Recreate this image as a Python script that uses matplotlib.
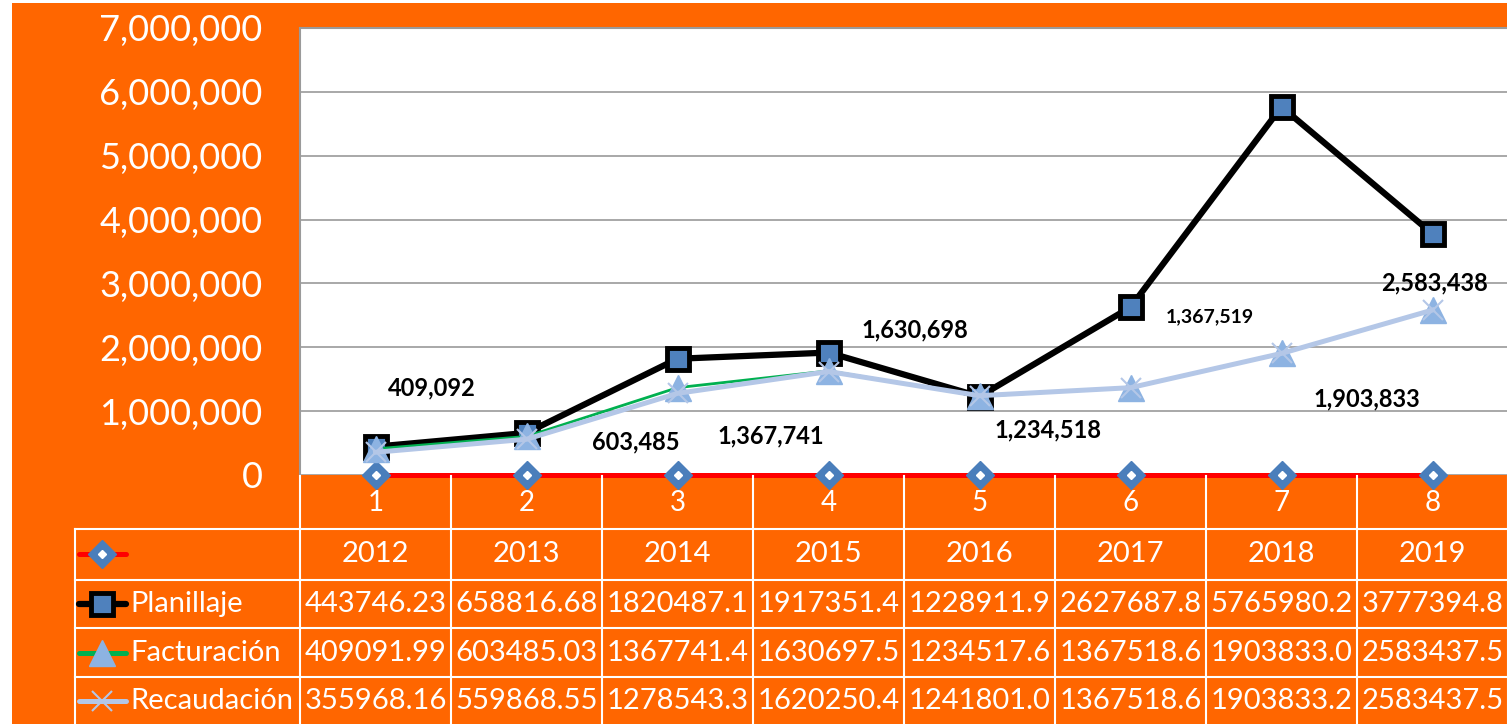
import matplotlib.pyplot as plt
from matplotlib.lines import Line2D

plt.rcParams['font.family'] = ['Lato', 'DejaVu Sans']

categorias = [1, 2, 3, 4, 5, 6, 7, 8]
anios = [2012, 2013, 2014, 2015, 2016, 2017, 2018, 2019]
planillaje = [443746.23, 658816.68, 1820487.1, 1917351.4, 1228911.9, 2627687.8, 5765980.2, 3777394.8]
facturacion = [409091.99, 603485.03, 1367741.4, 1630697.5, 1234517.6, 1367518.6, 1903833.0, 2583437.5]
recaudacion = [355968.16, 559868.55, 1278543.3, 1620250.4, 1241801.0, 1367518.6, 1903833.2, 2583437.5]
yticks = [0, 1000000, 2000000, 3000000, 4000000, 5000000, 6000000, 7000000]

# label offsets (pixels) for the Facturación data labels, as placed in the original
lbl_off = [(56, 61), (109, -5), (93, -48), (86, 41), (68, -34), (79, 71), (85, -45), (2, 27)]
lbl_size = [17, 17, 17, 17, 17, 14, 17, 17]

ORANGE = '#FF6600'
W, H = 1507, 724

fig = plt.figure(figsize=(W / 100, H / 100), dpi=100, facecolor='white')
# orange chart area (white strip on left / top like the screenshot)
fig.patches.append(plt.Rectangle((12 / W, 0), 1, 1 - 3 / H, transform=fig.transFigure,
                                 facecolor=ORANGE, edgecolor='none', zorder=-10))

ax_l, ax_r, ax_t, ax_b = 300, 1508, 28, 475
ax = fig.add_axes([ax_l / W, 1 - ax_b / H, (ax_r - ax_l) / W, (ax_b - ax_t) / H])
ax.set_facecolor('white')
ax.set_xlim(0.5, 8.5)
ax.set_ylim(0, 7000000)
ax.set_yticks(yticks)
ax.set_yticklabels([f'{v:,}' for v in yticks], color='white', fontsize=26)
ax.tick_params(axis='y', length=0, pad=27)
ax.set_xticks(categorias)
ax.set_xticklabels([str(c) for c in categorias], color='white', fontsize=20)
ax.tick_params(axis='x', length=0, pad=11)
ax.grid(axis='y', color='#9A9A9A', linewidth=1.2)
ax.set_axisbelow(True)
for s in ['right', 'bottom']:
    ax.spines[s].set_visible(False)
for s in ['left', 'top']:
    ax.spines[s].set_color('#9A9A9A')
    ax.spines[s].set_linewidth(1.5)

# series
ax.plot(categorias, anios, color='#FF0000', lw=3.6, marker='D', ms=14,
        mfc='#4A7EBB', mec='#4A7EBB', clip_on=False, zorder=3)
ax.plot(categorias, anios, ls='none', marker='D', ms=4.5, mfc='white', mec='white',
        clip_on=False, zorder=4)
ax.plot(categorias, planillaje, color='black', lw=4.5, marker='s', ms=16,
        mfc='#4F81BD', mec='black', mew=3.5, zorder=5)
ax.plot(categorias, facturacion, color='#00B050', lw=2.0, marker='^', ms=19,
        mfc='#8DB3E2', mec='#8DB3E2', zorder=6)
ax.plot(categorias, recaudacion, color='#B4C7E7', lw=3.6, marker='x', ms=15,
        mec='#B4C7E7', mew=1.5, zorder=7)

for x, v, off, fs in zip(categorias, facturacion, lbl_off, lbl_size):
    ax.annotate(f'{v:,.0f}', (x, v), xytext=off, textcoords='offset pixels',
                ha='center', va='center', fontsize=fs, fontweight='bold', color='black',
                zorder=10)

# data table below the axis
def fy(py):
    return 1 - py / H

def fx(px):
    return px / W

cell_w = (ax_r - ax_l) / len(categorias)
row_lines = [529, 580, 628, 677]
for y in row_lines:
    fig.add_artist(Line2D([fx(75), 1], [fy(y), fy(y)], color='white', lw=1.5))
for k in range(len(categorias) + 1):
    x = ax_l + k * cell_w
    fig.add_artist(Line2D([fx(x), fx(x)], [fy(476), 0], color='white', lw=1.5))
fig.add_artist(Line2D([fx(75), fx(75)], [fy(529), 0], color='white', lw=1.5))

row_y = [554, 604, 653, 701]
rows = [
    ('', [str(a) for a in anios]),
    ('Planillaje', [f'{v:.2f}' if v < 1e6 else f'{v:.1f}' for v in planillaje]),
    ('Facturación', [f'{v:.2f}' if v < 1e6 else f'{v:.1f}' for v in facturacion]),
    ('Recaudación', [f'{v:.2f}' if v < 1e6 else f'{v:.1f}' for v in recaudacion]),
]
for (name, vals), y in zip(rows, row_y):
    fig.text(fx(130), fy(y), name, color='white', fontsize=21, ha='left', va='center')
    for k, t in enumerate(vals):
        fig.text(fx(ax_l + (k + 0.5) * cell_w), fy(y), t, color='white', fontsize=21,
                 ha='center', va='center')

# legend keys inside the table
keys = [
    dict(color='#FF0000', lw=3.6, marker='D', ms=14, mfc='#4A7EBB', mec='#4A7EBB'),
    dict(color='black', lw=4.5, marker='s', ms=16, mfc='#4F81BD', mec='black', mew=3.5),
    dict(color='#00B050', lw=3.6, marker='^', ms=19, mfc='#8DB3E2', mec='#8DB3E2'),
    dict(color='#B4C7E7', lw=3.6, marker='x', ms=15, mec='#B4C7E7', mew=1.5),
]
for kw, y in zip(keys, row_y):
    fig.add_artist(Line2D([fx(79), fx(126)], [fy(y), fy(y)], color=kw['color'], lw=kw['lw'],
                          solid_capstyle='round'))
    mk = {k: v for k, v in kw.items() if k not in ('color', 'lw')}
    fig.add_artist(Line2D([fx(102)], [fy(y)], ls='none', **mk))
fig.add_artist(Line2D([fx(102)], [fy(row_y[0])], ls='none', marker='D', ms=4.5,
                      mfc='white', mec='white'))

fig.savefig('out.png', dpi=100, facecolor=fig.get_facecolor())
